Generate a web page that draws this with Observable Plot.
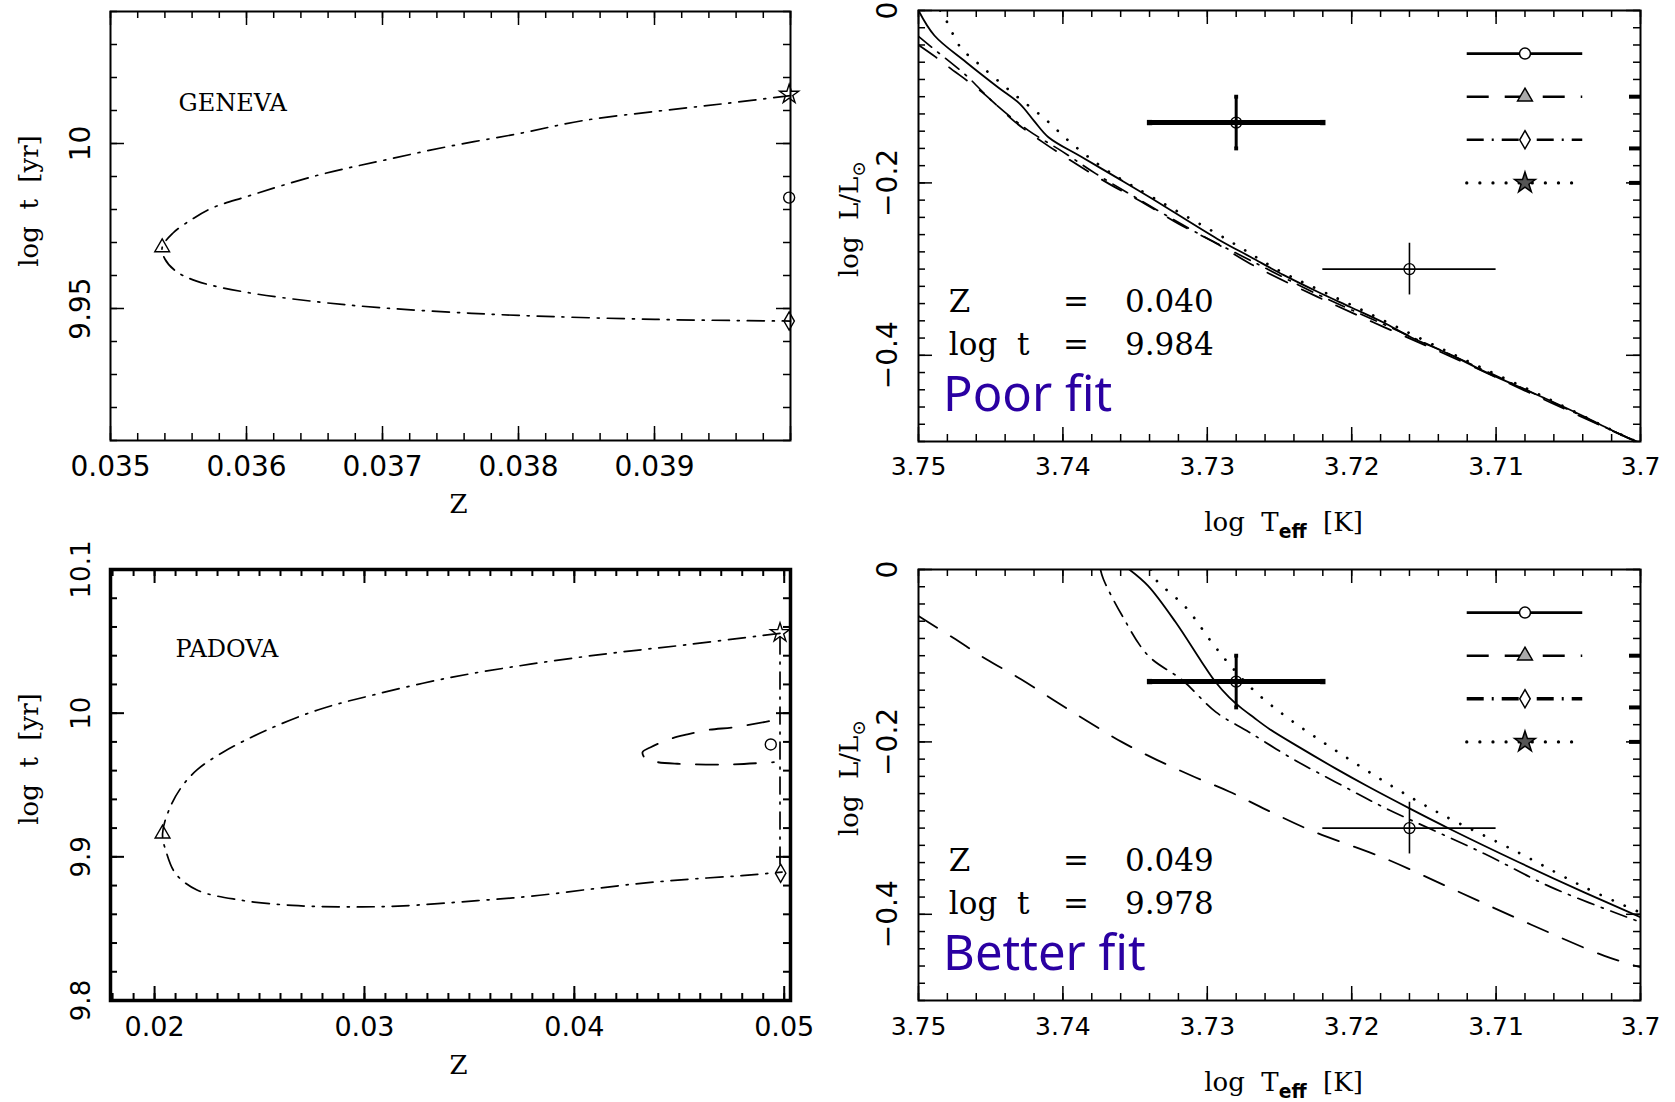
<!DOCTYPE html>
<html>
<head>
<meta charset="utf-8">
<script src="https://cdn.jsdelivr.net/npm/d3@7"></script>
<script src="https://cdn.jsdelivr.net/npm/@observablehq/plot@0.6"></script>
<style>
html,body{margin:0;padding:0;background:#fff;}
#wrap{position:relative;width:1675px;height:1102px;overflow:hidden;background:#fff;}
.panel{position:absolute;}
.panel svg{overflow:visible;display:block;}
</style>
</head>
<body>
<div id="wrap">
  <div class="panel" id="tl" style="left:0px;top:0px"></div>
  <div class="panel" id="tr" style="left:830px;top:0px"></div>
  <div class="panel" id="bl" style="left:0px;top:540px"></div>
  <div class="panel" id="br" style="left:830px;top:540px"></div>
</div>
<script>
// ---------------- DATA ----------------
// Top-left: GENEVA grid, best-fit track in (Z, log t)
const genevaZ    = [0.04, 0.039517, 0.039004, 0.038468, 0.038002, 0.037497, 0.036996, 0.036526, 0.036, 0.03575, 0.035594, 0.035458, 0.03538, 0.0354, 0.035478, 0.035633, 0.036, 0.036526, 0.036996, 0.037497, 0.038002, 0.039004, 0.04];
const genevaLogT = [10.0145, 10.0121, 10.0097, 10.0069, 10.0030, 9.9992, 9.9948, 9.9904, 9.9839, 9.9805, 9.9769, 9.9728, 9.9685, 9.9650, 9.9614, 9.9583, 9.9549, 9.9520, 9.9502, 9.9489, 9.9479, 9.9467, 9.9462];
const genevaMarkSym  = ["star", "circle", "triangle", "diamond"];
const genevaMarkZ    = [0.03999, 0.03999, 0.03538, 0.03999];
const genevaMarkLogT = [10.0149, 9.9836, 9.9685, 9.9462];

// Bottom-left: PADOVA grid
const padovaZ    = [0.0498, 0.04546, 0.04168, 0.0379, 0.03412, 0.03034, 0.02781, 0.0253, 0.02328, 0.02202, 0.02126, 0.0207, 0.02038, 0.02056, 0.02101, 0.02202, 0.02403, 0.02656, 0.02908, 0.0316, 0.03538, 0.0379, 0.04042, 0.04294, 0.04546, 0.04798, 0.0499];
const padovaLogT = [10.0556, 10.0478, 10.0416, 10.0341, 10.0249, 10.0124, 10.0024, 9.9879, 9.9730, 9.9605, 9.9481, 9.9331, 9.9161, 9.9032, 9.8882, 9.8769, 9.8700, 9.8662, 9.8652, 9.8657, 9.8695, 9.8725, 9.8769, 9.8812, 9.8844, 9.8869, 9.8894];
const padovaEdgeZ    = [0.0498, 0.0498];
const padovaEdgeLogT = [10.053, 9.893];
const padovaLoopZ    = [0.04928, 0.04761, 0.04642, 0.04539, 0.0446, 0.04364, 0.04325, 0.0434, 0.04396, 0.04491, 0.0473, 0.04951];
const padovaLoopLogT = [9.9944, 9.9902, 9.9884, 9.9852, 9.9822, 9.9763, 9.9728, 9.9682, 9.9659, 9.9648, 9.9643, 9.9659];
const padovaMarkSym  = ["star", "circle", "triangle", "diamond"];
const padovaMarkZ    = [0.0498, 0.04936, 0.02038, 0.04983];
const padovaMarkLogT = [10.056, 9.9782, 9.9161, 9.8886];

// Top-right: HR diagram, GENEVA isochrones (log Teff, log L/Lsun)
const trSolidT   = [3.7500, 3.7489, 3.7467, 3.7445, 3.7430, 3.7420, 3.7410, 3.7387, 3.7360, 3.7339, 3.7293, 3.7270, 3.7247, 3.7224, 3.7201, 3.7178, 3.7159, 3.7132, 3.7109, 3.7085, 3.7062, 3.7039, 3.7021, 3.7007, 3.6995];
const trSolidL   = [0, -0.029, -0.060, -0.089, -0.108, -0.128, -0.147, -0.170, -0.1965, -0.2175, -0.265, -0.286, -0.307, -0.326, -0.344, -0.362, -0.379, -0.399, -0.418, -0.436, -0.453, -0.471, -0.486, -0.497, -0.505];
const trDashT    = [3.7500, 3.7488, 3.7479, 3.7456, 3.7433, 3.7414, 3.7391, 3.7368, 3.7343, 3.7320, 3.7294, 3.7270, 3.7224, 3.7178, 3.7132, 3.7062, 3.7007, 3.6995];
const trDashL    = [-0.040, -0.0541, -0.0657, -0.0947, -0.1295, -0.1527, -0.1779, -0.2011, -0.2243, -0.2474, -0.2700, -0.294, -0.332, -0.367, -0.401, -0.455, -0.497, -0.505];
const trDashDotT = [3.7500, 3.7491, 3.7467, 3.7447, 3.7424, 3.7400, 3.7377, 3.7352, 3.7306, 3.7270, 3.7224, 3.7178, 3.7132, 3.7062, 3.7007, 3.6995];
const trDashDotL = [-0.030, -0.0425, -0.0754, -0.1083, -0.139, -0.164, -0.1895, -0.2146, -0.259, -0.290, -0.329, -0.364, -0.399, -0.4535, -0.497, -0.505];
const trDotT     = [3.7485, 3.7480, 3.7471, 3.7457, 3.7435, 3.7413, 3.7392, 3.7369, 3.7336, 3.7286, 3.7250, 3.7224, 3.7201, 3.7132, 3.7062, 3.7007, 3.6995];
const trDotL     = [0, -0.014, -0.0425, -0.064, -0.0955, -0.125, -0.157, -0.186, -0.2185, -0.266, -0.302, -0.323, -0.341, -0.397, -0.452, -0.497, -0.505];

// Bottom-right: HR diagram, PADOVA isochrones
const brSolidT   = [3.7354, 3.7341, 3.7322, 3.7304, 3.7295, 3.7285, 3.7277, 3.7268, 3.7257, 3.7237, 3.7211, 3.7189, 3.7159, 3.7132, 3.7085, 3.7039, 3.7000];
const brSolidL   = [0, -0.019, -0.061, -0.107, -0.129, -0.148, -0.160, -0.1715, -0.185, -0.2055, -0.231, -0.2515, -0.278, -0.301, -0.339, -0.3745, -0.4033];
const brDashT    = [3.7500, 3.7476, 3.7453, 3.7429, 3.7406, 3.7383, 3.7359, 3.7335, 3.7310, 3.7285, 3.7259, 3.7227, 3.7178, 3.7127, 3.7076, 3.7025, 3.7000];
const brDashL    = [-0.054, -0.0793, -0.1041, -0.1273, -0.152, -0.176, -0.2003, -0.2208, -0.2398, -0.2575, -0.2788, -0.3036, -0.3345, -0.3731, -0.4118, -0.4482, -0.4614];
const brDashDotT = [3.7374, 3.7372, 3.7359, 3.7341, 3.7317, 3.7294, 3.7271, 3.7241, 3.7211, 3.7178, 3.7108, 3.7062, 3.7000];
const brDashDotL = [0, -0.011, -0.0534, -0.0998, -0.1288, -0.1655, -0.1887, -0.2196, -0.2467, -0.2757, -0.3298, -0.3685, -0.4091];
const brDotT     = [3.7339, 3.7336, 3.7315, 3.7297, 3.7285, 3.7267, 3.7244, 3.7212, 3.7171, 3.7139, 3.7085, 3.7039, 3.7000];
const brDotL     = [0, -0.011, -0.0437, -0.0843, -0.1094, -0.1415, -0.1725, -0.209, -0.2525, -0.283, -0.328, -0.3685, -0.398];

// Observed binary components (same in both HR panels)
const obsLogT    = [3.728, 3.716];
const obsLogTErr = [0.006, 0.006];
const obsLogL    = [-0.13, -0.30];
const obsLogLErr = [0.03, 0.03];

// Legend (in data coordinates of the HR panels)
const legendSymbols = ["circle", "triangle", "diamond", "star"];
const legendStyles  = ["solid", "dash", "dashdot", "dot"];
const legendLogL    = [-0.05, -0.10, -0.15, -0.20];
const legendLogT    = [3.712, 3.708, 3.704];
const rightEdgeBold = [-0.10, -0.16, -0.20];

// Fit annotations
const infoNames   = ["Z", "log\u00a0\u00a0t"];
const infoLogL    = [-0.35, -0.40];
const infoColLogT = [3.7479, 3.7400, 3.7357];
const fitLogL     = -0.465;
const genevaFit   = ["0.040", "9.984"];
const padovaFit   = ["0.049", "9.978"];

// Axis ticks and labels
const tlXTicks = [0.035, 0.036, 0.037, 0.038, 0.039];
const tlXLabels = ["0.035", "0.036", "0.037", "0.038", "0.039"];
const tlXMajor = [0.035, 0.036, 0.037, 0.038, 0.039, 0.04];
const tlYTicks = [9.95, 10];
const tlYLabels = ["9.95", "10"];
const blXTicks = [0.02, 0.03, 0.04, 0.05];
const blXLabels = ["0.02", "0.03", "0.04", "0.05"];
const blYTicks = [9.8, 9.9, 10, 10.1];
const blYLabels = ["9.8", "9.9", "10", "10.1"];
const hrXTicks = [3.75, 3.74, 3.73, 3.72, 3.71, 3.70];
const hrXLabels = ["3.75", "3.74", "3.73", "3.72", "3.71", "3.7"];
const hrYTicks = [0, -0.2, -0.4];
const hrYLabels = ["0", "\u22120.2", "\u22120.4"];

// ---------------- HELPERS ----------------
const zip = (xs, ys) => xs.map((x, i) => ({x, y: ys[i]}));

const STYLE = {
  solid:   {strokeWidth: 1.8},
  dash:    {strokeWidth: 1.8, strokeDasharray: "22,16"},
  dashdot: {strokeWidth: 1.7, strokeDasharray: "17,8,2,8"},
  dot:     {strokeWidth: 2.7, strokeDasharray: "0.1,13", strokeLinecap: "round"}
};

function frameTicks(cfg, xMinor, xMajor, yMinor, yMajor, sw) {
  const iw = cfg.w - cfg.ml - cfg.mr, ih = cfg.h - cfg.mt - cfg.mb;
  const MIN = 7, MAJ = 14;
  const o = {stroke: "black", strokeWidth: sw};
  return [
    Plot.tickX(xMinor, {x: d => d, insetTop: ih - MIN, ...o}),
    Plot.tickX(xMinor, {x: d => d, insetBottom: ih - MIN, ...o}),
    Plot.tickX(xMajor, {x: d => d, insetTop: ih - MAJ, ...o}),
    Plot.tickX(xMajor, {x: d => d, insetBottom: ih - MAJ, ...o}),
    Plot.tickY(yMinor, {y: d => d, insetRight: iw - MIN, ...o}),
    Plot.tickY(yMinor, {y: d => d, insetLeft: iw - MIN, ...o}),
    Plot.tickY(yMajor, {y: d => d, insetRight: iw - MAJ, ...o}),
    Plot.tickY(yMajor, {y: d => d, insetLeft: iw - MAJ, ...o})
  ];
}

function boldRightTicks(cfg) {
  const iw = cfg.w - cfg.ml - cfg.mr;
  return [Plot.tickY(rightEdgeBold, {y: d => d, insetLeft: iw - 11, stroke: "black", strokeWidth: 4})];
}

function tickLabels(xT, xL, yT, yL, dyX, dxY, fx, fy) {
  const f = {fontFamily: "DejaVu Sans", fill: "black"};
  return [
    Plot.text(xT, {x: d => d, text: (d, i) => xL[i], frameAnchor: "bottom", dy: dyX, lineAnchor: "middle", textAnchor: "middle", fontSize: fx, ...f}),
    Plot.text(yT, {y: d => d, text: (d, i) => yL[i], frameAnchor: "left", dx: dxY, rotate: -90, lineAnchor: "middle", textAnchor: "middle", fontSize: fy, ...f})
  ];
}

function axisLabels(xLabel, yLabel, xdx, xdy, ydx, ydy) {
  const f = {fontFamily: "DejaVu Serif", fontSize: 26, fill: "black", lineAnchor: "middle", textAnchor: "middle"};
  return [
    Plot.text([xLabel], {text: d => d, frameAnchor: "bottom", dx: xdx, dy: xdy, ...f}),
    Plot.text([yLabel], {text: d => d, frameAnchor: "left", dx: ydx, dy: ydy, rotate: -90, ...f})
  ];
}

function markers(syms, xs, ys) {
  return syms.map((s, i) => Plot.dot([{x: xs[i], y: ys[i]}], {
    x: "x", y: "y", symbol: s, r: s === "star" ? 6 : 5.5, stroke: "black", fill: "none", strokeWidth: 1.4
  }));
}

function errorBars() {
  const marks = [];
  const obs = obsLogT.map((t, i) => ({x: t, ex: obsLogTErr[i], y: obsLogL[i], ey: obsLogLErr[i]}));
  obs.forEach((o, i) => {
    const thick = i === 0;
    marks.push(Plot.ruleY([o], {y: "y", x1: d => d.x - d.ex, x2: d => d.x + d.ex, stroke: "black", strokeWidth: thick ? 5 : 1.6}));
    marks.push(Plot.ruleX([o], {x: "x", y1: d => d.y - d.ey, y2: d => d.y + d.ey, stroke: "black", strokeWidth: thick ? 3 : 1.6}));
    if (thick) {
      marks.push(Plot.dot([o, o], {x: (d, j) => j ? d.x + d.ex : d.x - d.ex, y: "y", symbol: "square", r: 3, fill: "black"}));
      marks.push(Plot.dot([o, o], {x: "x", y: (d, j) => j ? d.y + d.ey : d.y - d.ey, symbol: "square", r: 2.2, fill: "black"}));
    }
    marks.push(Plot.dot([o], {x: "x", y: "y", r: 5.5, stroke: "black", fill: "none", strokeWidth: 1.3}));
  });
  return marks;
}

function legend(boldDashDot) {
  const marks = [];
  legendLogL.forEach((yv, i) => {
    const st = {...STYLE[legendStyles[i]]};
    st.strokeWidth = legendStyles[i] === "dot" ? 3.2 : (legendStyles[i] === "dashdot" && boldDashDot ? 3.6 : 2.6);
    marks.push(Plot.ruleY([yv], {y: d => d, x1: legendLogT[0], x2: legendLogT[2], stroke: "black", ...st}));
    marks.push(Plot.dot([yv], {x: legendLogT[1], y: d => d, symbol: legendSymbols[i], r: legendSymbols[i] === "star" ? 6.5 : 5.5, stroke: "black", fill: legendSymbols[i] === "star" ? "#555" : (legendSymbols[i] === "triangle" ? "#aaa" : "white"), strokeWidth: 1.5}));
  });
  return marks;
}

function infoBlock(values, fitText) {
  const f = {fontFamily: "DejaVu Serif", fontSize: 31, fill: "black", textAnchor: "start", lineAnchor: "bottom"};
  return [
    Plot.text(infoNames, {x: infoColLogT[0], y: (d, i) => infoLogL[i], text: d => d, ...f}),
    Plot.text(infoNames, {x: infoColLogT[1], y: (d, i) => infoLogL[i], text: () => "=", ...f}),
    Plot.text(values, {x: infoColLogT[2], y: (d, i) => infoLogL[i], text: d => d, ...f}),
    Plot.text([fitText], {x: infoColLogT[0] + 0.0004, y: fitLogL, text: d => d, fontFamily: "Noto Sans", fontSize: 49, fill: "#2a00a2", textAnchor: "start", lineAnchor: "bottom"})
  ];
}

function hrLines(s) {
  const o = {x: "x", y: "y", stroke: "black", curve: "catmull-rom", clip: true};
  return [
    Plot.line(zip(s.dashT, s.dashL), {...o, ...STYLE.dash}),
    Plot.line(zip(s.dashDotT, s.dashDotL), {...o, ...STYLE.dashdot}),
    Plot.line(zip(s.dotT, s.dotL), {...o, ...STYLE.dot}),
    Plot.line(zip(s.solidT, s.solidL), {...o, ...STYLE.solid})
  ];
}

function subscriptify(svg, full, base, sub, tail, bold) {
  d3.select(svg).selectAll("text").filter(function () { return this.textContent === full; }).each(function () {
    const t = d3.select(this);
    t.text(null);
    t.append("tspan").text(base);
    t.append("tspan").attr("dy", 7).attr("font-size", "0.72em").attr("font-weight", bold ? "bold" : null).attr("font-family", bold ? "DejaVu Sans" : null).text(sub);
    if (tail) t.append("tspan").attr("dy", -7).text(tail);
  });
}

function render(cfg, xDomain, yDomain, marks) {
  const svg = Plot.plot({
    width: cfg.w, height: cfg.h,
    marginLeft: cfg.ml, marginRight: cfg.mr, marginTop: cfg.mt, marginBottom: cfg.mb,
    x: {domain: xDomain, axis: null},
    y: {domain: yDomain, axis: null},
    style: {background: "transparent", overflow: "visible", fontFamily: "DejaVu Sans"},
    marks
  });
  document.getElementById(cfg.id).appendChild(svg);
  return svg;
}

// ---------------- PANELS ----------------
const TL = {id: "tl", w: 830, h: 540, ml: 110, mr: 40, mt: 11, mb: 100};
const TR = {id: "tr", w: 845, h: 540, ml: 88, mr: 35, mt: 10, mb: 99};
const BL = {id: "bl", w: 830, h: 562, ml: 110, mr: 40, mt: 29, mb: 102};
const BR = {id: "br", w: 845, h: 562, ml: 88, mr: 35, mt: 29, mb: 102};

const TEFF_LABEL = "log\u00a0\u00a0Teff\u00a0\u00a0[K]";
const LUM_LABEL = "log\u00a0\u00a0L/L\u2299";
const AGE_LABEL = "log\u00a0\u00a0t\u00a0\u00a0[yr]";

// Top-left
render(TL, [0.035, 0.04], [9.91, 10.04], [
  ...frameTicks(TL, d3.ticks(0.035, 0.04, 25), tlXMajor, d3.ticks(9.91, 10.04, 13), tlYTicks, 1.5),
  Plot.frame({stroke: "black", strokeWidth: 2}),
  Plot.line(zip(genevaZ, genevaLogT), {x: "x", y: "y", stroke: "black", curve: "catmull-rom", ...STYLE.dashdot}),
  ...markers(genevaMarkSym, genevaMarkZ, genevaMarkLogT),
  Plot.text(["GENEVA"], {x: 0.0355, y: 10.01, text: d => d, fontFamily: "DejaVu Serif", fontSize: 24, textAnchor: "start", lineAnchor: "bottom", fill: "black"}),
  ...tickLabels(tlXTicks, tlXLabels, tlYTicks, tlYLabels, 27, -29, 28, 28),
  ...axisLabels("Z", AGE_LABEL, 8, 64, -81, -25)
]);

// Bottom-left
render(BL, [0.0179, 0.0503], [9.8, 10.1], [
  ...frameTicks(BL, d3.ticks(0.018, 0.0503, 32), blXTicks, d3.ticks(9.8, 10.1, 15), blYTicks, 2),
  Plot.frame({stroke: "black", strokeWidth: 3.5}),
  Plot.line(zip(padovaZ, padovaLogT), {x: "x", y: "y", stroke: "black", curve: "catmull-rom", ...STYLE.dashdot}),
  Plot.line(zip(padovaEdgeZ, padovaEdgeLogT), {x: "x", y: "y", stroke: "black", ...STYLE.dashdot}),
  Plot.line(zip(padovaLoopZ, padovaLoopLogT), {x: "x", y: "y", stroke: "black", curve: "catmull-rom", ...STYLE.dash}),
  ...markers(padovaMarkSym, padovaMarkZ, padovaMarkLogT),
  Plot.text(["PADOVA"], {x: 0.021, y: 10.039, text: d => d, fontFamily: "DejaVu Serif", fontSize: 24, textAnchor: "start", lineAnchor: "bottom", fill: "black"}),
  ...tickLabels(blXTicks, blXLabels, blYTicks, blYLabels, 27, -29, 27, 26),
  ...axisLabels("Z", AGE_LABEL, 8, 65, -81, -26)
]);

// Top-right
const trSvg = render(TR, [3.75, 3.70], [-0.5, 0], [
  ...frameTicks(TR, d3.ticks(3.70, 3.75, 25), hrXTicks, d3.ticks(-0.5, 0, 25), hrYTicks, 1.5),
  ...boldRightTicks(TR),
  Plot.frame({stroke: "black", strokeWidth: 2}),
  ...hrLines({solidT: trSolidT, solidL: trSolidL, dashT: trDashT, dashL: trDashL, dashDotT: trDashDotT, dashDotL: trDashDotL, dotT: trDotT, dotL: trDotL}),
  ...errorBars(),
  ...legend(false),
  ...infoBlock(genevaFit, "Poor fit"),
  ...tickLabels(hrXTicks, hrXLabels, hrYTicks, hrYLabels, 25, -30, 25, 28),
  ...axisLabels(TEFF_LABEL, LUM_LABEL, 4, 81, -69, -7)
]);
subscriptify(trSvg, TEFF_LABEL, "log\u00a0\u00a0T", "eff", "\u00a0\u00a0[K]", true);
subscriptify(trSvg, LUM_LABEL, "log\u00a0\u00a0L/L", "\u2299", null, false);

// Bottom-right
const brSvg = render(BR, [3.75, 3.70], [-0.5, 0], [
  ...frameTicks(BR, d3.ticks(3.70, 3.75, 25), hrXTicks, d3.ticks(-0.5, 0, 25), hrYTicks, 1.5),
  ...boldRightTicks(BR),
  Plot.frame({stroke: "black", strokeWidth: 2}),
  ...hrLines({solidT: brSolidT, solidL: brSolidL, dashT: brDashT, dashL: brDashL, dashDotT: brDashDotT, dashDotL: brDashDotL, dotT: brDotT, dotL: brDotL}),
  ...errorBars(),
  ...legend(true),
  ...infoBlock(padovaFit, "Better fit"),
  ...tickLabels(hrXTicks, hrXLabels, hrYTicks, hrYLabels, 26, -30, 25, 28),
  ...axisLabels(TEFF_LABEL, LUM_LABEL, 4, 82, -69, -7)
]);
subscriptify(brSvg, TEFF_LABEL, "log\u00a0\u00a0T", "eff", "\u00a0\u00a0[K]", true);
subscriptify(brSvg, LUM_LABEL, "log\u00a0\u00a0L/L", "\u2299", null, false);
</script>
</body>
</html>
